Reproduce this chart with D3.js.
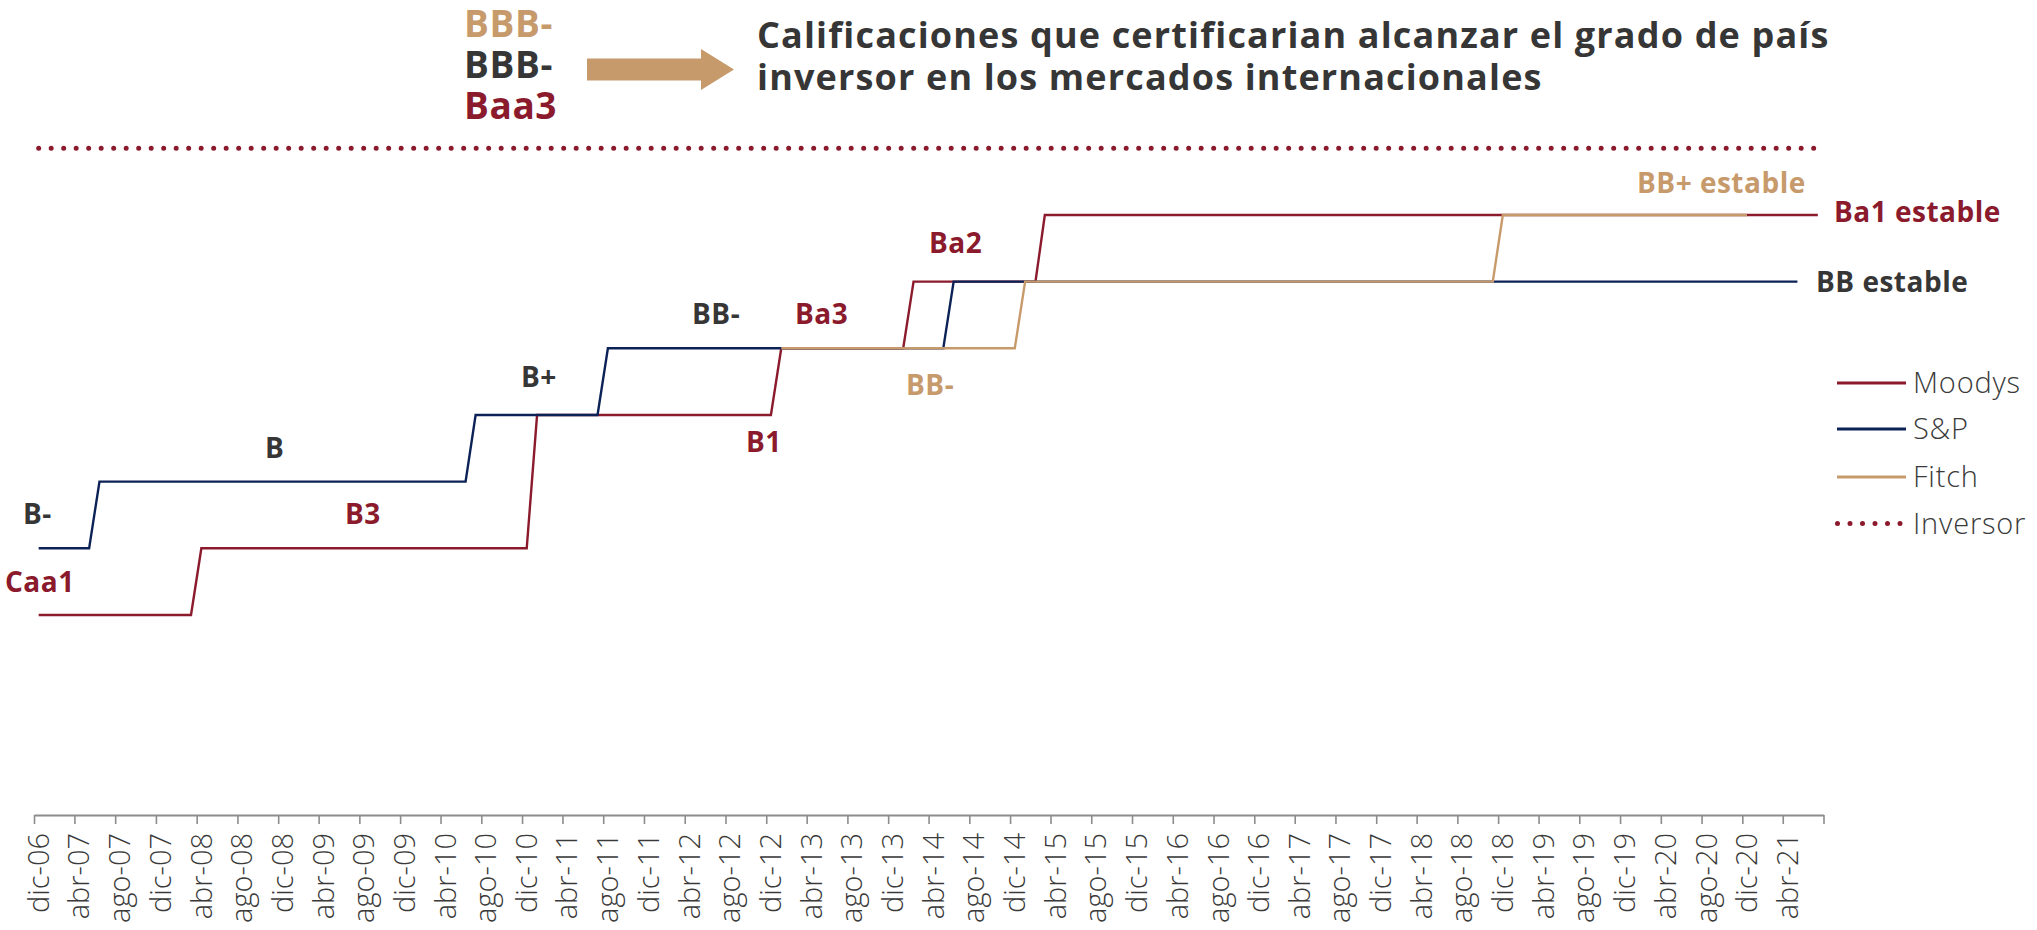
<!DOCTYPE html>
<html><head><meta charset="utf-8">
<script src="https://cdn.jsdelivr.net/npm/d3@7"></script>
<style>
body{margin:0;background:#fff;}
svg{display:block;font-family:"Open Sans","Noto Sans",sans-serif;}
</style></head><body>
<svg id="chart" width="2037" height="930"></svg>
<script>
// ---------- DATA ----------
// Rating scale steps (Moody's / S&P-Fitch), numeric level index
const ratingLevels = ["Caa1","B3 / B-","B2 / B","B1 / B+","Ba3 / BB-","Ba2 / BB","Ba1 / BB+","Baa3 / BBB-"];

const moodysDates  = ["2006-12-15","2008-03-15","2008-04-15","2010-12-15","2011-01-15","2012-12-15","2013-01-15","2014-01-15","2014-02-15","2015-02-15","2015-03-15","2021-07-15"];
const moodysValues = [0,0,1,1,3,3,4,4,5,5,6,6];

const spDates  = ["2006-12-15","2007-05-15","2007-06-15","2010-06-15","2010-07-15","2011-07-15","2011-08-15","2014-05-15","2014-06-15","2021-05-15"];
const spValues = [1,1,2,2,3,3,4,4,5,5];

const fitchDates  = ["2013-01-15","2014-12-15","2015-01-15","2018-11-15","2018-12-15","2020-12-15"];
const fitchValues = [4,4,5,5,6,6];

const inversorDates  = ["2006-12-15","2021-07-15"];
const inversorValues = [7,7];

const tickLabels = ["dic-06","abr-07","ago-07","dic-07","abr-08","ago-08","dic-08","abr-09","ago-09","dic-09",
  "abr-10","ago-10","dic-10","abr-11","ago-11","dic-11","abr-12","ago-12","dic-12","abr-13","ago-13","dic-13",
  "abr-14","ago-14","dic-14","abr-15","ago-15","dic-15","abr-16","ago-16","dic-16","abr-17","ago-17","dic-17",
  "abr-18","ago-18","dic-18","abr-19","ago-19","dic-19","abr-20","ago-20","dic-20","abr-21"];

const seriesNames = ["Moodys","S&P","Fitch","Inversor"];

// annotation texts (rating labels)
const annoTexts  = ["B-","Caa1","B","B3","B+","BB-","Ba3","B1","Ba2","BB-","BB+ estable","Ba1 estable","BB estable"];
const annoSeries = ["S&P","Moodys","S&P","Moodys","S&P","S&P","Moodys","Moodys","Moodys","Fitch","Fitch","Moodys","S&P"];
const annoLevels = [1,0,2,1,3,4,4,3,5,4,6,6,5];

const headerRatings = ["BBB-","BBB-","Baa3"];
const headerSeries  = ["Fitch","S&P","Moodys"];
const titleLines = ["Calificaciones que certificarian alcanzar el grado de país","inversor en los mercados internacionales"];

// ---------- STYLE / LAYOUT ----------
const colors = {"Moodys":"#8A1A2C","S&P":"#0C2257","Fitch":"#C79A6C","Inversor":"#8A1A2C"};
const textColors = {"Moodys":"#8A1A2C","S&P":"#363636","Fitch":"#C79A6C"};
// label layout: [x start, y offset from level]
const annoLayout = [[23,-34],[5,-33],[265,-34],[345,-34],[521,-38],[692,-34],[795,-34],[746,27],[929,-39],[906,37],[1637,-32],[1834,-3],[1816,0]];

const parse = d3.utcParse("%Y-%m-%d");
const svg = d3.select("#chart");

const x = d3.scaleUtc().domain([new Date(Date.UTC(2006,11,1)), new Date(Date.UTC(2021,7,1))]).range([34, 1823.5]);
const y = d3.scaleLinear().domain([-3, 7]).range([815, 148.3]);

// ---------- AXIS ----------
const tickDates = d3.utcMonth.range(new Date(Date.UTC(2006,11,1)), new Date(Date.UTC(2021,7,2)), 4);
const axis = d3.axisBottom(x).tickValues(tickDates).tickSize(9).tickSizeOuter(0)
  .tickFormat((d,i)=> tickLabels[i] || "");
const gx = svg.append("g").attr("transform","translate(0,815)").call(axis);
gx.select(".domain").attr("stroke","#8C8C8C").attr("stroke-width",2);
gx.selectAll(".tick line").attr("stroke","#8C8C8C").attr("stroke-width",1.6);
gx.selectAll(".tick text")
  .attr("transform","rotate(-90)")
  .attr("x",-18).attr("y",0).attr("dy","0.5em")
  .attr("text-anchor","end")
  .attr("fill","#3a3a3a")
  .style("font-size","29px").style("font-weight","300")
  .style("font-family","'Open Sans','Noto Sans',sans-serif");

// ---------- LINES ----------
const line = d3.line().x(d=>x(d.date)).y(d=>y(d.value));
function mk(dates, vals){ return dates.map((d,i)=>({date:parse(d), value:vals[i]})); }

svg.append("path").datum(mk(inversorDates, inversorValues))
  .attr("d", line).attr("fill","none").attr("stroke",colors["Inversor"])
  .attr("stroke-width",5).attr("stroke-linecap","round").attr("stroke-dasharray","0 12.5");

const series = [["Moodys",moodysDates,moodysValues],["S&P",spDates,spValues],["Fitch",fitchDates,fitchValues]];
series.forEach(([name,ds,vs])=>{
  svg.append("path").datum(mk(ds,vs)).attr("d",line)
    .attr("fill","none").attr("stroke",colors[name]).attr("stroke-width",2.4)
    .attr("stroke-linejoin","miter");
});

// ---------- ANNOTATIONS ----------
annoTexts.forEach((t,i)=>{
  svg.append("text").attr("x",annoLayout[i][0]).attr("y",y(annoLevels[i])+annoLayout[i][1])
    .attr("dy","0.36em").attr("fill",textColors[annoSeries[i]])
    .style("font-size","28px").style("font-weight","700").style("letter-spacing","0.5px").text(t);
});

// ---------- HEADER ----------
const headerBase = [37, 78, 118.5];
headerRatings.forEach((t,i)=>{
  svg.append("text").attr("x",464).attr("y",headerBase[i])
    .attr("fill",textColors[headerSeries[i]])
    .style("font-size","37px").style("font-weight","700").style("letter-spacing","0.6px").text(t);
});
svg.append("path")
  .attr("d","M587,58.5 H701 V49 L734,69.5 L701,90 V80.5 H587 Z")
  .attr("fill","#C79A6C");
const titleBase = [48, 90];
titleLines.forEach((t,i)=>{
  svg.append("text").attr("x",757).attr("y",titleBase[i]).attr("fill","#363636")
    .style("font-size","36px").style("font-weight","700").style("letter-spacing","1.15px").text(t);
});

// ---------- LEGEND ----------
const legendY = [383, 429, 477, 523.5];
seriesNames.forEach((n,i)=>{
  const g = svg.append("g");
  if (n === "Inversor") {
    g.append("line").attr("x1",1837.5).attr("x2",1900.5).attr("y1",legendY[i]).attr("y2",legendY[i])
      .attr("stroke",colors[n]).attr("stroke-width",5).attr("stroke-linecap","round").attr("stroke-dasharray","0 12.5");
  } else {
    g.append("line").attr("x1",1837).attr("x2",1906).attr("y1",legendY[i]).attr("y2",legendY[i])
      .attr("stroke",colors[n]).attr("stroke-width",3);
  }
  g.append("text").attr("x",1913).attr("y",legendY[i]).attr("dy","0.36em")
    .attr("fill","#3a3a3a").style("font-size","29px").style("font-weight","300").style("letter-spacing","0.8px").text(n);
});
</script>
</body></html>
